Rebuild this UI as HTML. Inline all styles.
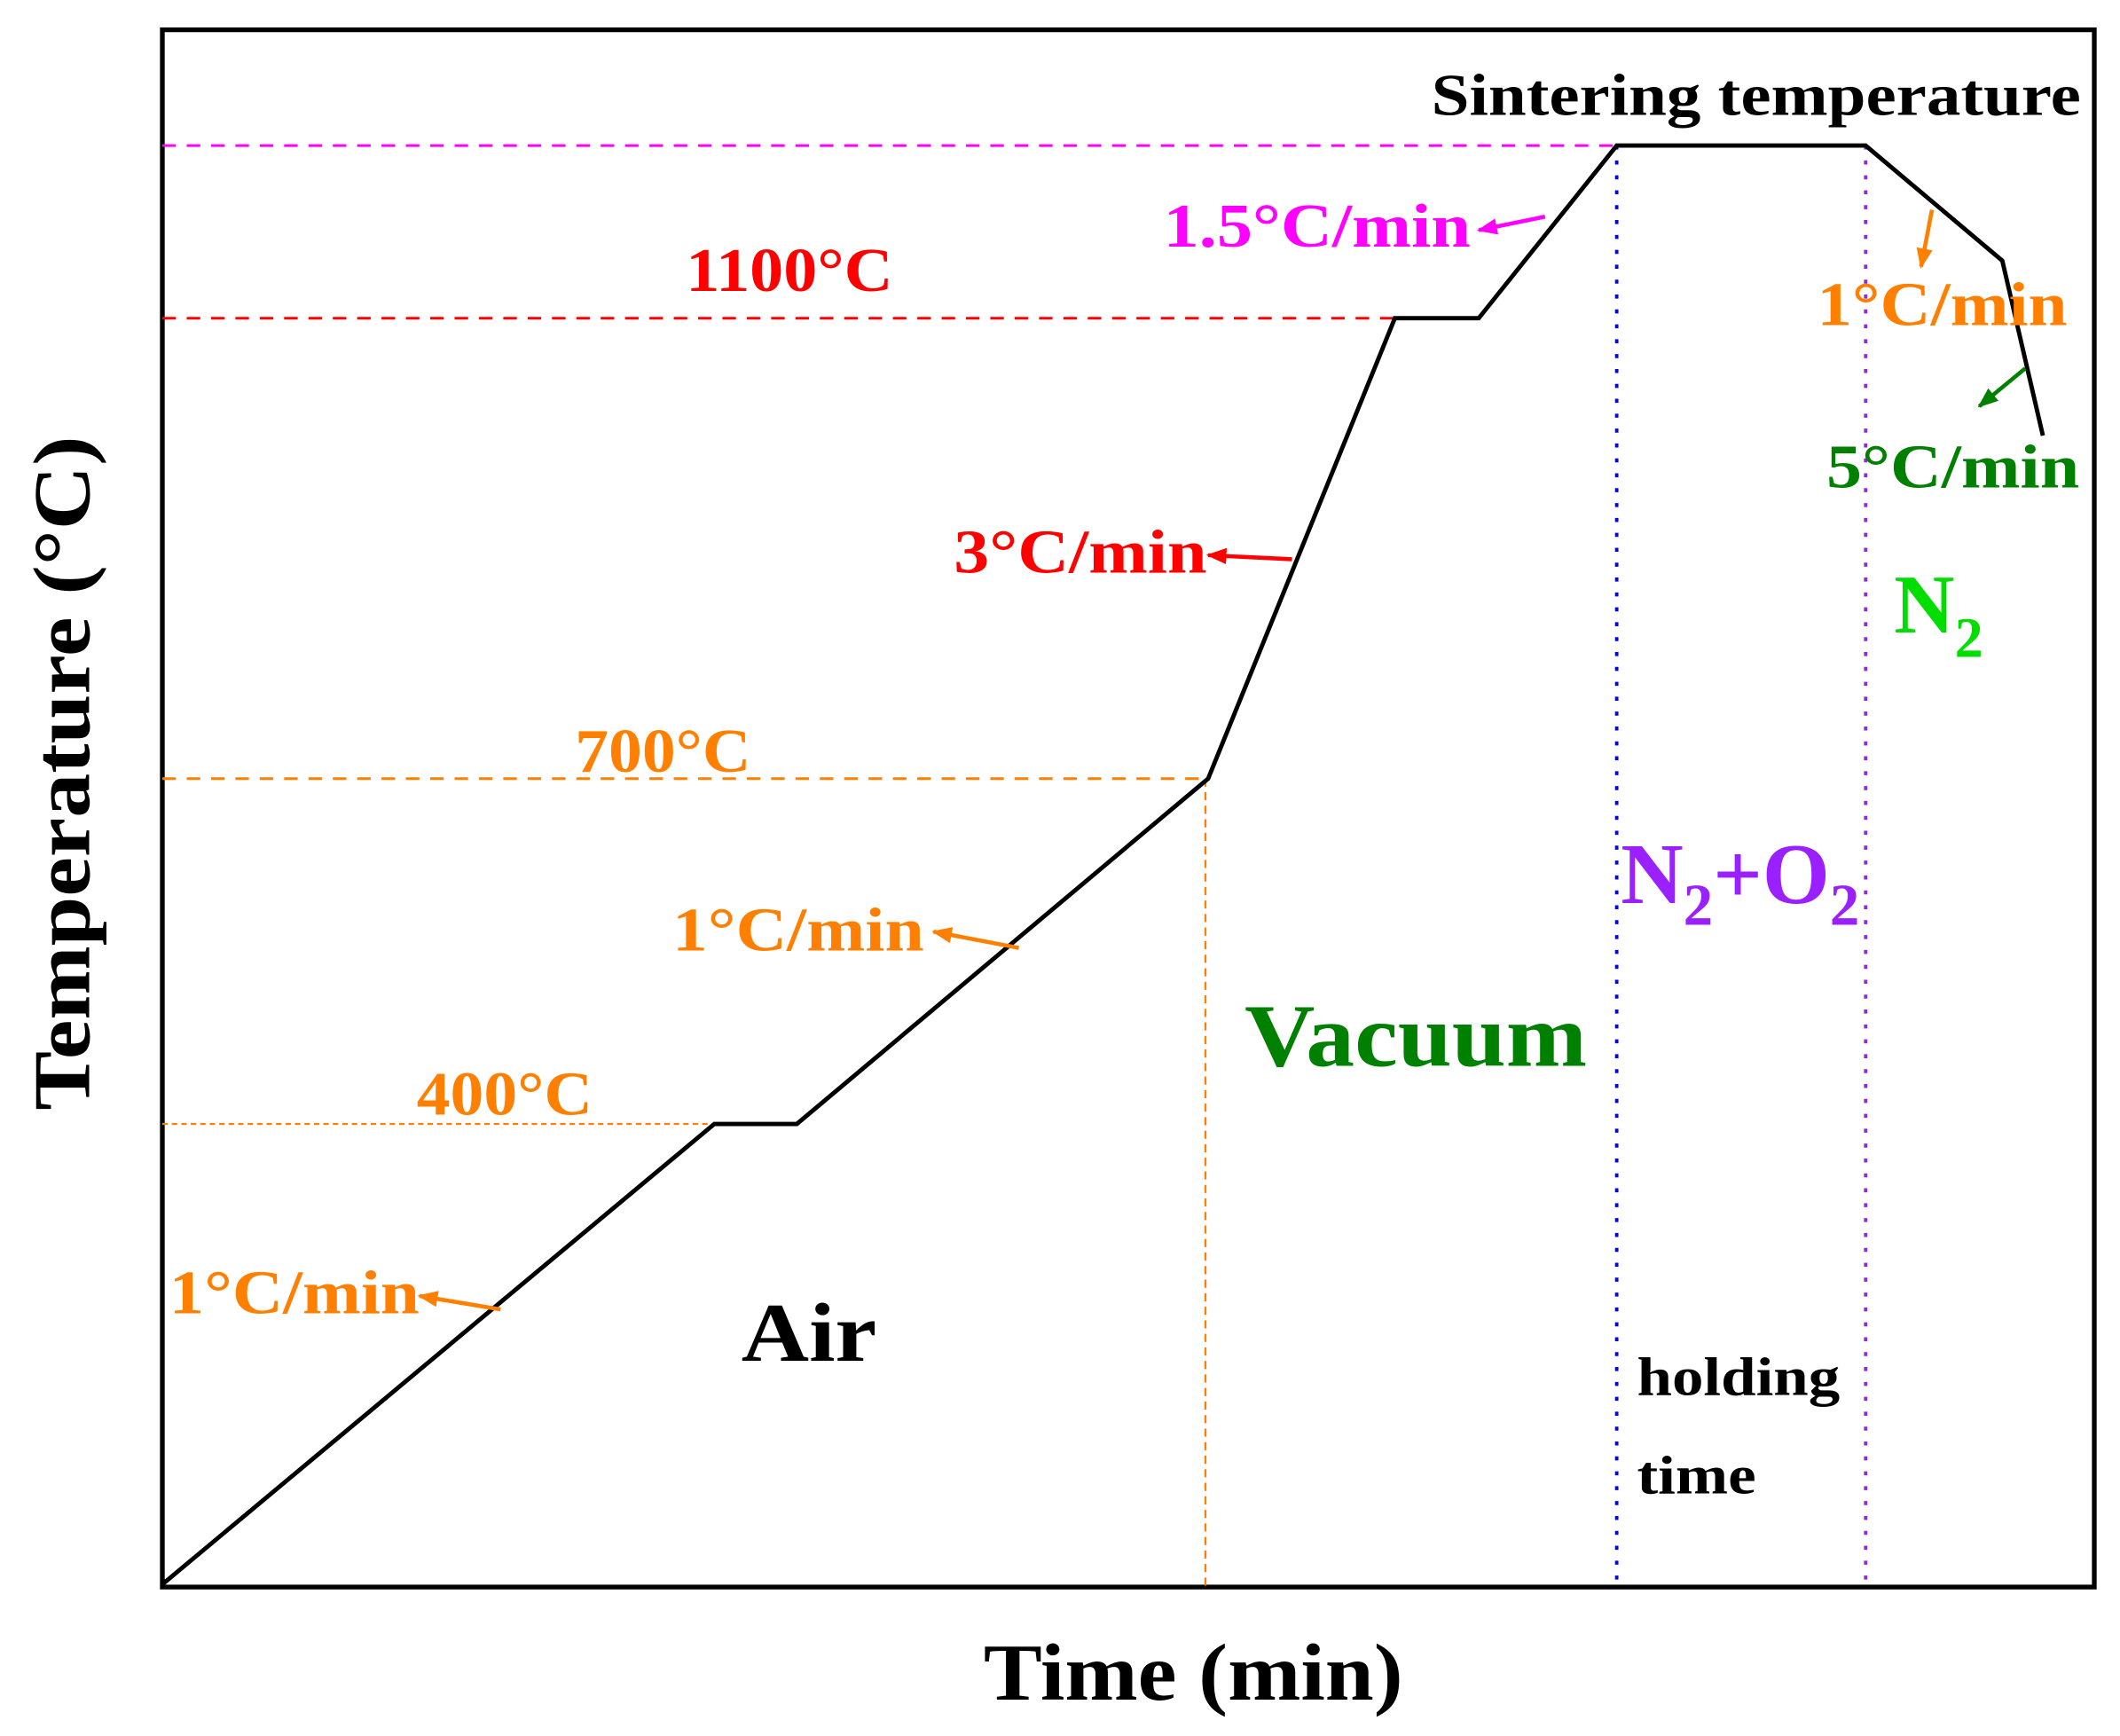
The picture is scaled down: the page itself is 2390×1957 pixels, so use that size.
<!DOCTYPE html>
<html><head><meta charset="utf-8"><style>
html,body{margin:0;padding:0;background:#fff;overflow:hidden;}
svg{display:block;}
text{font-family:"Liberation Serif",serif;font-weight:bold;}
</style></head><body>
<svg id="chart" width="2390" height="1957" viewBox="0 0 1567 1282" preserveAspectRatio="none" xmlns="http://www.w3.org/2000/svg">
<defs>
<marker id="ah" viewBox="0 0 10 10" refX="9" refY="5" markerWidth="5" markerHeight="5" orient="auto" markerUnits="strokeWidth"><path d="M0,1 L10,5 L0,9 z" fill="context-stroke"/></marker>
</defs>
<rect x="120" y="22" width="1428" height="1150" fill="none" stroke="#000" stroke-width="3.5"/>
<g id="guides"></g>
<g id="series"></g>
<g id="arrows"></g>
<text x="1058" y="85" font-size="44" textLength="480" lengthAdjust="spacingAndGlyphs" fill="#000">Sintering temperature</text>
<text x="860" y="182" font-size="46" textLength="227" lengthAdjust="spacingAndGlyphs" fill="#ff00ff">1.5°C/min</text>
<text x="507" y="215" font-size="46" textLength="153" lengthAdjust="spacingAndGlyphs" fill="#ff0000">1100°C</text>
<text x="1343" y="240" font-size="46" textLength="185" lengthAdjust="spacingAndGlyphs" fill="#ff8000">1°C/min</text>
<text x="1350" y="360" font-size="46" textLength="187" lengthAdjust="spacingAndGlyphs" fill="#008000">5°C/min</text>
<text x="705" y="423" font-size="46" textLength="187" lengthAdjust="spacingAndGlyphs" fill="#ff0000">3°C/min</text>
<text x="1400" y="467" font-size="62" fill="#00dd00">N<tspan font-size="42" dy="18">2</tspan></text>
<text x="425" y="570" font-size="46" textLength="130" lengthAdjust="spacingAndGlyphs" fill="#ff8000">700°C</text>
<text x="1198" y="667" font-size="64" fill="#9b20ff">N<tspan font-size="44" dy="16">2</tspan><tspan dy="-16">+O</tspan><tspan font-size="44" dy="16">2</tspan></text>
<text x="497" y="702" font-size="46" textLength="186" lengthAdjust="spacingAndGlyphs" fill="#ff8000">1°C/min</text>
<text x="920" y="787" font-size="66" textLength="253" lengthAdjust="spacingAndGlyphs" fill="#008000">Vacuum</text>
<text x="308" y="823" font-size="46" textLength="130" lengthAdjust="spacingAndGlyphs" fill="#ff8000">400°C</text>
<text x="125" y="970" font-size="46" textLength="185" lengthAdjust="spacingAndGlyphs" fill="#ff8000">1°C/min</text>
<text x="548" y="1005" font-size="62" textLength="100" lengthAdjust="spacingAndGlyphs" fill="#000">Air</text>
<text x="1210" y="1030" font-size="40" textLength="150" lengthAdjust="spacingAndGlyphs" fill="#000">holding</text>
<text x="1210" y="1103" font-size="40" textLength="88" lengthAdjust="spacingAndGlyphs" fill="#000">time</text>
<text x="727" y="1255" font-size="60" textLength="310" lengthAdjust="spacingAndGlyphs" fill="#000">Time (min)</text>
<text transform="translate(66,820) rotate(-90)" font-size="60" textLength="498" lengthAdjust="spacingAndGlyphs" fill="#000">Temperature (°C)</text>
</svg>
<script>
const times = [0, 408, 469, 773, 911, 973, 1075, 1259, 1360, 1390];
const temps = [0, 400, 400, 700, 1100, 1100, 1250, 1250, 1150, 998];
const xOf = t => 120 + t;
const yOf = T => 1170 - T * 0.85;
const NS = "http://www.w3.org/2000/svg";
function mk(tag, attrs, parent) {
  const e = document.createElementNS(NS, tag);
  for (const k in attrs) e.setAttribute(k, attrs[k]);
  document.getElementById(parent).appendChild(e);
  return e;
}
let d = times.map((t, i) => (i ? "L" : "M") + xOf(t) + "," + yOf(temps[i])).join(" ");
const line = mk("path", {d: d, fill: "none", stroke: "#000", "stroke-width": 3.2, "stroke-linejoin": "miter"}, "series");


const hg = [[1250, 6, "#ff00ff", "10 8", 2], [1100, 4, "#ff0000", "10 8", 2], [700, 3, "#ff8000", "10 8", 2], [400, 1, "#ff8000", "4 3", 1.5]];
hg.forEach(g => {
  const e = mk("line", {x1: 120, x2: xOf(times[g[1]]), y1: yOf(g[0]), y2: yOf(g[0]), stroke: g[2], "stroke-dasharray": g[3], "stroke-width": g[4]}, "guides");
  
  
});
const vg = [[3, "#ff8000", "6 4", 1.5, 700], [6, "#0000ff", "3 8", 2.5, 1250], [7, "#8a2be2", "3 8", 2.5, 1250]];
vg.forEach(g => {
  const x = xOf(times[g[0]]) - (g[0] === 3 ? 2 : 0);
  const e = mk("line", {x1: x, x2: x, y1: yOf(g[4]), y2: 1171, stroke: g[1], "stroke-dasharray": g[2], "stroke-width": g[3]}, "guides");
  
  
});
const arrows = [[1142,160,1093,170,"#ff00ff"],[955,413,893,410,"#ff0000"],[753,700,690,688,"#ff8000"],[370,967,310,957,"#ff8000"],[1428,155,1420,197,"#ff8000"],[1497,272,1463,300,"#008000"]];
arrows.forEach(a => {
  const e = mk("line", {x1: a[0], y1: a[1], x2: a[2], y2: a[3], stroke: a[4], "stroke-width": 3, "marker-end": "url(#ah)"}, "arrows");
  
  
});
</script>
</body></html>
